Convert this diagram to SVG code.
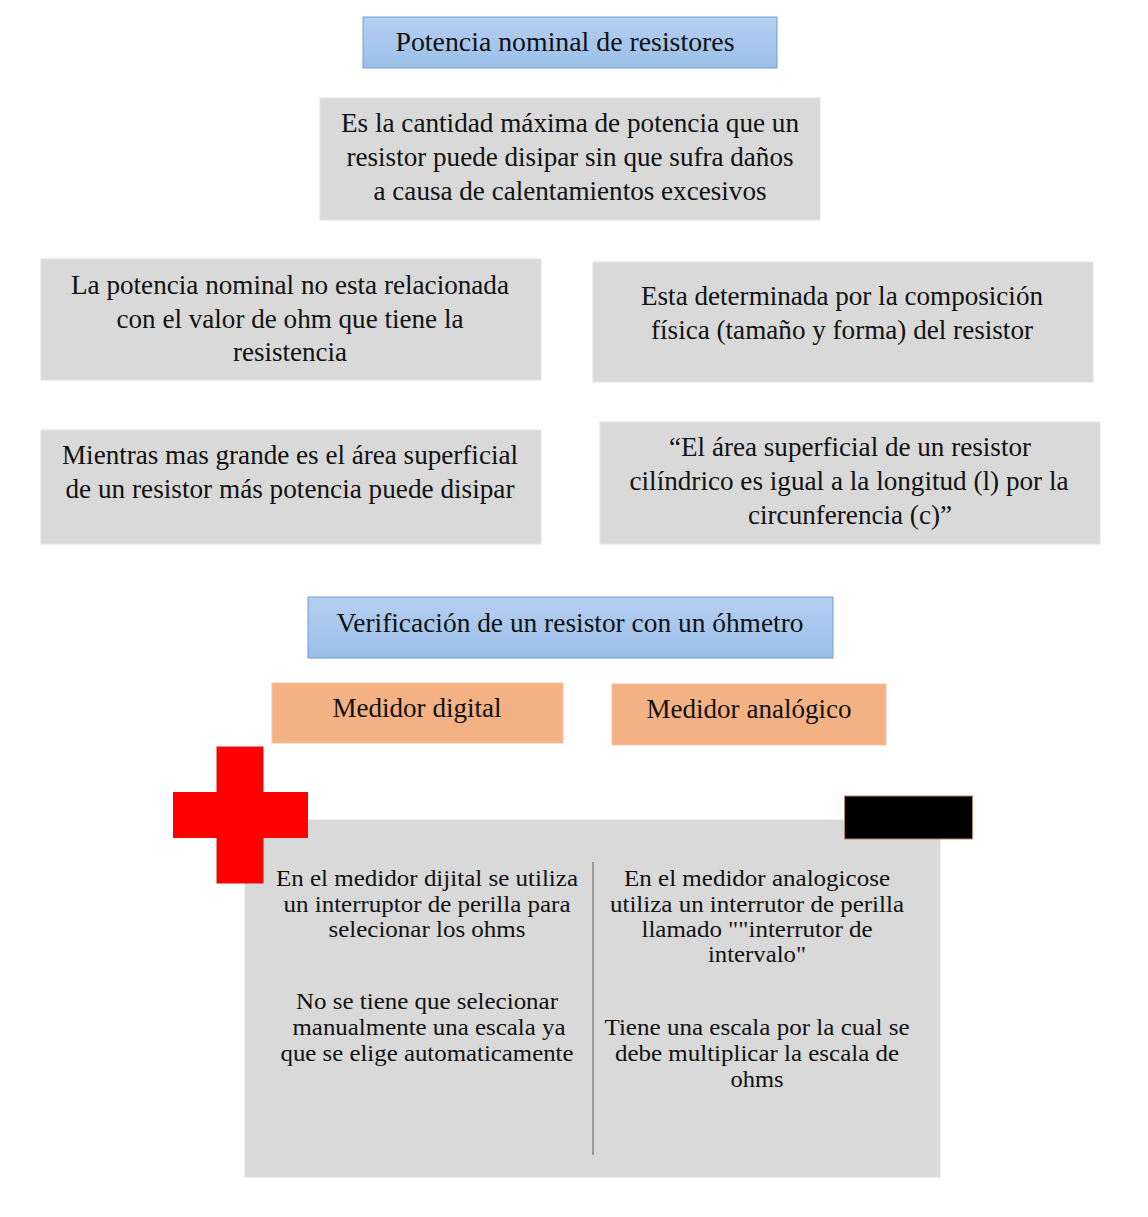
<svg xmlns="http://www.w3.org/2000/svg" width="1148" height="1217" viewBox="0 0 1148 1217">
<defs>
<linearGradient id="blueg" x1="0" y1="0" x2="0" y2="1">
<stop offset="0" stop-color="#b5cff1"/>
<stop offset="1" stop-color="#9bbfe8"/>
</linearGradient>
<style>
.t{font-size:27px;fill:#111;text-anchor:middle}
.s{font-size:24px;fill:#111;text-anchor:middle}
.gray{fill:#d9d9d9;stroke:#e2e2e2;stroke-width:1}
.blue{fill:url(#blueg);stroke:#6f9fd8;stroke-width:1}
.orange{fill:#f4b183;stroke:#f6c3a0;stroke-width:1}
</style>
</defs>
<rect width="1148" height="1217" fill="#ffffff"/>
<g id="title1">
<rect class="blue" x="363" y="17" width="414" height="51"/>
<text class="t" font-family="Liberation Serif" x="565" y="51" font-size="28" textLength="339" lengthAdjust="spacingAndGlyphs">Potencia nominal de resistores</text>
</g>
<g id="def">
<rect class="gray" x="320" y="98" width="500" height="122"/>
<text class="t" font-family="Liberation Serif" x="570" y="132" textLength="458" lengthAdjust="spacingAndGlyphs">Es la cantidad máxima de potencia que un</text>
<text class="t" font-family="Liberation Serif" x="570" y="166" textLength="447" lengthAdjust="spacingAndGlyphs">resistor puede disipar sin que sufra daños</text>
<text class="t" font-family="Liberation Serif" x="570" y="200" textLength="393" lengthAdjust="spacingAndGlyphs">a causa de calentamientos excesivos</text>
</g>
<g id="box3">
<rect class="gray" x="41" y="259" width="500" height="121"/>
<text class="t" font-family="Liberation Serif" x="290" y="294" textLength="438" lengthAdjust="spacingAndGlyphs">La potencia nominal no esta relacionada</text>
<text class="t" font-family="Liberation Serif" x="290" y="328" textLength="347" lengthAdjust="spacingAndGlyphs">con el valor de ohm que tiene la</text>
<text class="t" font-family="Liberation Serif" x="290" y="361" textLength="114" lengthAdjust="spacingAndGlyphs">resistencia</text>
</g>
<g id="box4">
<rect class="gray" x="593" y="262" width="500" height="120"/>
<text class="t" font-family="Liberation Serif" x="842" y="305" textLength="402" lengthAdjust="spacingAndGlyphs">Esta determinada por la composición</text>
<text class="t" font-family="Liberation Serif" x="842" y="339" textLength="382" lengthAdjust="spacingAndGlyphs">física (tamaño y forma) del resistor</text>
</g>
<g id="box5">
<rect class="gray" x="41" y="430" width="500" height="114"/>
<text class="t" font-family="Liberation Serif" x="290" y="464" textLength="456" lengthAdjust="spacingAndGlyphs">Mientras mas grande es el área superficial</text>
<text class="t" font-family="Liberation Serif" x="290" y="498" textLength="449" lengthAdjust="spacingAndGlyphs">de un resistor más potencia puede disipar</text>
</g>
<g id="box6">
<rect class="gray" x="600" y="422" width="500" height="122"/>
<text class="t" font-family="Liberation Serif" x="850" y="456" textLength="362" lengthAdjust="spacingAndGlyphs">“El área superficial de un resistor</text>
<text class="t" font-family="Liberation Serif" x="849" y="490" textLength="439" lengthAdjust="spacingAndGlyphs">cilíndrico es igual a la longitud (l) por la</text>
<text class="t" font-family="Liberation Serif" x="850" y="524" textLength="204" lengthAdjust="spacingAndGlyphs">circunferencia (c)”</text>
</g>
<g id="title2">
<rect class="blue" x="308" y="597" width="525" height="61"/>
<text class="t" font-family="Liberation Serif" x="570" y="632" textLength="467" lengthAdjust="spacingAndGlyphs">Verificación de un resistor con un óhmetro</text>
</g>
<g id="digital">
<rect class="orange" x="272" y="683" width="291" height="60"/>
<text class="t" font-family="Liberation Serif" x="417" y="717" textLength="169" lengthAdjust="spacingAndGlyphs">Medidor digital</text>
</g>
<g id="analog">
<rect class="orange" x="612" y="684" width="274" height="61"/>
<text class="t" font-family="Liberation Serif" x="749" y="718" textLength="205" lengthAdjust="spacingAndGlyphs">Medidor analógico</text>
</g>
<g id="compare">
<rect x="245" y="820" width="695" height="357" fill="#d9d9d9" stroke="#e0e0e0"/>
<g id="plus">
<rect x="217" y="747" width="46" height="136" fill="#ff0000" stroke="#e01010" stroke-width="1"/>
<rect x="173" y="792" width="135" height="46" fill="#ff0000"/>
<rect x="217.5" y="792.5" width="45" height="45" fill="#ff0000"/>
</g>
<rect id="minus" x="844.5" y="796" width="128" height="43" fill="#000000" stroke="#c08070" stroke-width="1"/>
<line x1="593" y1="862" x2="593" y2="1155" stroke="#9a9a9a" stroke-width="2"/>
<g id="leftcol">
<text class="s" font-family="Liberation Serif" x="427" y="886" textLength="302" lengthAdjust="spacingAndGlyphs">En el medidor dijital se utiliza</text>
<text class="s" font-family="Liberation Serif" x="427" y="912" textLength="287" lengthAdjust="spacingAndGlyphs">un interruptor de perilla para</text>
<text class="s" font-family="Liberation Serif" x="427" y="937" textLength="197" lengthAdjust="spacingAndGlyphs">selecionar los ohms</text>
<text class="s" font-family="Liberation Serif" x="427" y="1009" textLength="262" lengthAdjust="spacingAndGlyphs">No se tiene que selecionar</text>
<text class="s" font-family="Liberation Serif" x="429" y="1035" textLength="273" lengthAdjust="spacingAndGlyphs">manualmente una escala ya</text>
<text class="s" font-family="Liberation Serif" x="427" y="1061" textLength="293" lengthAdjust="spacingAndGlyphs">que se elige automaticamente</text>
</g>
<g id="rightcol">
<text class="s" font-family="Liberation Serif" x="757" y="886" textLength="266" lengthAdjust="spacingAndGlyphs">En el medidor analogicose</text>
<text class="s" font-family="Liberation Serif" x="757" y="912" textLength="294" lengthAdjust="spacingAndGlyphs">utiliza un interrutor de perilla</text>
<text class="s" font-family="Liberation Serif" x="757" y="937" textLength="231" lengthAdjust="spacingAndGlyphs">llamado ""interrutor de</text>
<text class="s" font-family="Liberation Serif" x="757" y="962" textLength="98" lengthAdjust="spacingAndGlyphs">intervalo"</text>
<text class="s" font-family="Liberation Serif" x="757" y="1035" textLength="305" lengthAdjust="spacingAndGlyphs">Tiene una escala por la cual se</text>
<text class="s" font-family="Liberation Serif" x="757" y="1061" textLength="284" lengthAdjust="spacingAndGlyphs">debe multiplicar la escala de</text>
<text class="s" font-family="Liberation Serif" x="757" y="1087" textLength="53" lengthAdjust="spacingAndGlyphs">ohms</text>
</g>
</g>
</svg>
